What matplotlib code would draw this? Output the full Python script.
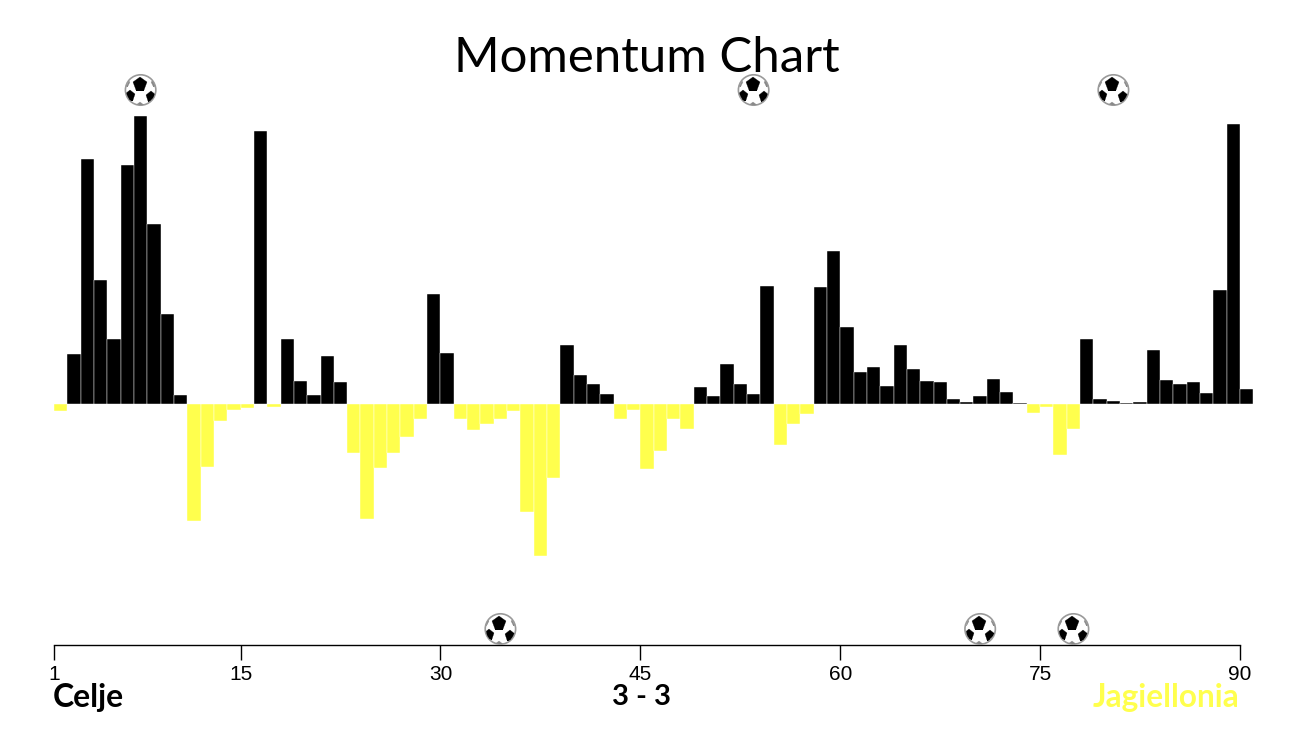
import matplotlib
matplotlib.use("Agg")
import matplotlib.pyplot as plt
from matplotlib.patches import Circle
from matplotlib.transforms import offset_copy, Affine2D

minutes = list(range(1, 91))
momentum = [
    -7, 50, 245, 124, 65, 239, 288, 180, 90, 9,
    -117, -63, -17, -6, -4, 273, -3, 65, 23, 9,
    48, 22, -49, -115, -64, -49, -33, -15, 110, 51,
    -15, -26, -20, -15, -7, -108, -152, -74, 59, 29,
    20, 10, -15, -6, -65, -47, -15, -25, 17, 8,
    40, 20, 10, 118, -41, -20, -10, 117, 153, 77,
    32, 37, 18, 59, 35, 23, 22, 5, 2, 8,
    25, 12, 1, -9, -3, -51, -25, 65, 5, 3,
    1, 2, 54, 24, 20, 22, 11, 114, 280, 15,
]
home_goals = [7, 53, 80]
away_goals = [34, 70, 77]
tick_labels = [1, 15, 30, 45, 60, 75, 90]
home_name = "Celje"
away_name = "Jagiellonia"
score = "3 - 3"
title = "Momentum Chart"

BLACK = "#000000"
YELLOW = "#FFFF4D"
W, H = 1296, 729
X0, X1 = 54, 1240
BASE = 404
px = (X1 - X0) / 89

fig = plt.figure(figsize=(W / 100, H / 100), dpi=100, facecolor="white")
ax = fig.add_axes([0, 0, 1, 1])
ax.set_xlim(1 - X0 / px, 1 + (W - X0) / px)
ax.set_ylim(BASE - H, BASE)
ax.patch.set_visible(False)

colors = [BLACK if v > 0 else YELLOW for v in momentum]
ax.bar(minutes, momentum, width=1, align="edge", color=colors,
       edgecolor="white", linewidth=0.3, zorder=2)

for s in ("top", "left", "right"):
    ax.spines[s].set_visible(False)
ax.spines["bottom"].set_position(("data", BASE - 645))
ax.spines["bottom"].set_bounds(1, 90)
ax.spines["bottom"].set_linewidth(1.0)
ax.yaxis.set_visible(False)
ax.set_xticks(tick_labels)
ax.set_xticklabels([str(t) for t in tick_labels], family="Liberation Sans", fontsize=15)
ax.tick_params(axis="x", length=11, width=1.0, pad=3.5, color="black")


def ball(minute, ypx):
    x, y = minute + 0.5, BASE - ypx
    kw = dict(zorder=5, linestyle="none")
    cx, cy = ax.transData.transform((x, y))
    ax.add_patch(Circle((cx, cy), 15.2, transform=Affine2D(), facecolor="white",
                        edgecolor="#9a9a9a", linewidth=1.2, zorder=4, clip_on=False))
    clip = Circle((cx, cy), 14.6, transform=Affine2D())
    for dx, dy, ms, col in [(-1, 6.5, 10.5, "black"), (-11, -6, 8, "black"), (10, -7, 8, "black"),
                            (-1, -15.5, 6, "#888888"), (-15, 7, 5.5, "#888888"), (14.5, 7, 5.5, "#888888")]:
        tr = offset_copy(ax.transData, fig=fig, x=dx, y=dy, units="dots")
        line, = ax.plot([x], [y], marker="p", ms=ms, mfc=col, mec=col, mew=0.2, transform=tr, **kw)
        line.set_clip_path(clip)


for m in home_goals:
    ball(m, 90)
for m in away_goals:
    ball(m, 629)

tf = fig.transFigure
ax.text(646.5 / W, 1 - 58 / H, title, transform=tf, ha="center", va="center",
        family="Lato", fontsize=35.4, color="black")
ax.text(53 / W, 1 - 697 / H, home_name, transform=tf, ha="left", va="center",
        family="Lato", weight="bold", fontsize=23, color=BLACK)
ax.text(641 / W, 1 - 697 / H, score, transform=tf, ha="center", va="center",
        family="Lato", weight="bold", fontsize=21, color=BLACK)
ax.text(1239 / W, 1 - 697 / H, away_name, transform=tf, ha="right", va="center",
        family="Lato", weight="bold", fontsize=22.8, color=YELLOW)

fig.savefig("out.png", dpi=100)
